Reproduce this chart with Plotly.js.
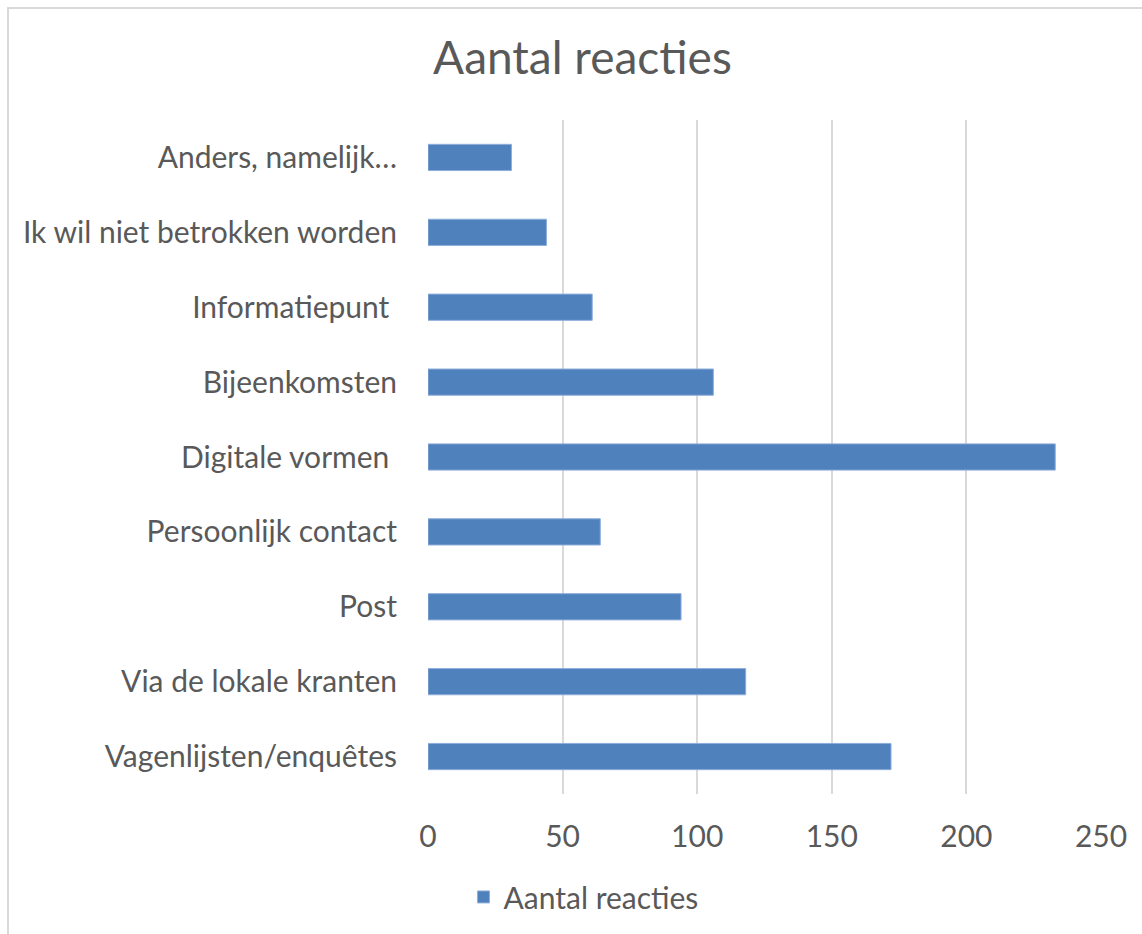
<!DOCTYPE html>
<html>
<head>
<meta charset="utf-8">
<script src="https://cdn.plot.ly/plotly-3.0.1.min.js"></script>
<style>
  html, body { margin: 0; padding: 0; background: #ffffff; overflow: hidden; }
  #wrap { position: relative; width: 1142px; height: 934px; }
  #chart { position: absolute; left: 0; top: 0; width: 1142px; height: 934px; }
  #frame { position: absolute; left: 7px; top: 7px; width: 1150px; height: 940px;
           border: 2px solid #d9d9d9; box-sizing: border-box; pointer-events: none; }
</style>
</head>
<body>
<div id="wrap">
  <div id="chart"></div>
  <div id="frame"></div>
</div>
<script>
// Categories listed bottom to top
const categories = [
  "Vagenlijsten/enquêtes",
  "Via de lokale kranten",
  "Post",
  "Persoonlijk contact",
  "Digitale vormen\u00a0",
  "Bijeenkomsten",
  "Informatiepunt\u00a0",
  "Ik wil niet betrokken worden",
  "Anders, namelijk…"
];
const values = [172, 118, 94, 64, 233, 106, 61, 44, 31];
const seriesName = "Aantal reacties";
const chartTitle = "Aantal reacties";
const tickValues = [0, 50, 100, 150, 200, 250];

const fontFamily = "Lato, 'Open Sans', 'DejaVu Sans', sans-serif";
const textColor = "#595959";

const trace = {
  type: "bar",
  orientation: "h",
  y: categories,
  x: values,
  name: seriesName,
  marker: { color: "#4f81bd", line: { color: "#8eaedb", width: 1 } },
  hoverinfo: "x+y"
};

const layout = {
  width: 1142,
  height: 934,
  paper_bgcolor: "rgba(0,0,0,0)",
  plot_bgcolor: "rgba(0,0,0,0)",
  margin: { l: 428, r: 41, t: 120, b: 139, pad: 0 },
  title: {
    text: chartTitle,
    font: { family: fontFamily, size: 46, color: textColor },
    x: 0.51, xanchor: "center",
    y: 0.938, yanchor: "middle"
  },
  font: { family: fontFamily, color: textColor },
  bargap: 0.65,
  showlegend: true,
  legend: {
    orientation: "h",
    x: 0.231, xanchor: "center",
    y: -0.151, yanchor: "middle",
    font: { family: fontFamily, size: 30, color: textColor },
    itemwidth: 30
  },
  xaxis: {
    range: [0, 250],
    tickvals: tickValues,
    ticktext: tickValues.map(String),
    showgrid: true,
    gridcolor: "#d9d9d9",
    gridwidth: 2,
    zeroline: false,
    showline: false,
    ticks: "",
    ticklabelstandoff: 22,
    tickfont: { family: fontFamily, size: 30, color: textColor },
    fixedrange: true
  },
  yaxis: {
    type: "category",
    categoryorder: "array",
    categoryarray: categories,
    showgrid: false,
    zeroline: false,
    showline: false,
    ticks: "",
    ticklabelstandoff: 30,
    tickfont: { family: fontFamily, size: 30, color: textColor },
    fixedrange: true
  }
};

Plotly.newPlot("chart", [trace], layout, { displayModeBar: false, staticPlot: true });
</script>
</body>
</html>
